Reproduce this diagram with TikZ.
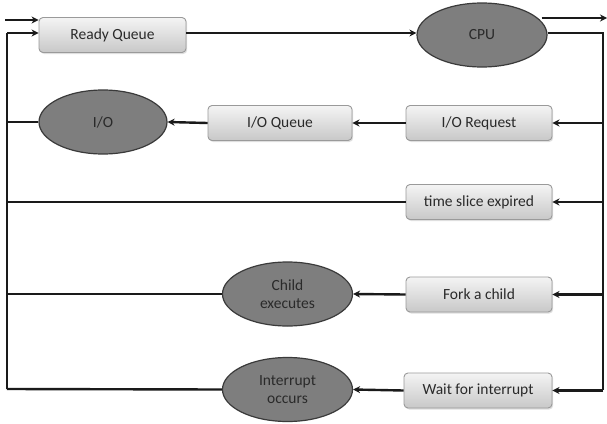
\documentclass[tikz,border=0pt]{standalone}
\usepackage{fontspec}
\setmainfont{Carlito}
\usetikzlibrary{arrows.meta,shapes.geometric,shadows}
\definecolor{boxtop}{HTML}{F4F4F4}
\definecolor{boxbot}{HTML}{C8C8C8}
\definecolor{boxline}{HTML}{9A9A9A}
\definecolor{ellfill}{HTML}{7E7E7E}
\definecolor{ellline}{HTML}{3A3A3A}
\definecolor{ink}{HTML}{2A2A2A}
\definecolor{wire}{HTML}{1A1A1A}
\tikzset{
  qbox/.style={draw=boxline, line width=0.9pt, rounded corners=4pt,
    top color=boxtop, bottom color=boxbot, minimum height=35pt,
    text=ink, font=\fontsize{15.5}{17}\selectfont,
    drop shadow={shadow xshift=1.2pt, shadow yshift=-1.5pt, opacity=0.25}},
  state/.style={ellipse, draw=ellline, line width=1.2pt, fill=ellfill,
    minimum width=130pt, minimum height=64pt, inner sep=0pt,
    text=ink, font=\fontsize{15.5}{18}\selectfont, align=center},
  wire/.style={draw=wire, line width=2.4pt},
  arr/.style={wire, -{Stealth[length=7pt,width=7pt]}},
}
\begin{document}
\begin{tikzpicture}[x=1pt,y=-1pt]
\useasboundingbox (0,0) rectangle (607,423);
\fill[white] (0,0) rectangle (607,423);

% queue boxes
\node[qbox, minimum width=147pt] (ready) at (112.5,35) {Ready Queue};
\node[qbox, minimum width=146pt] (ioreq) at (479,123) {I/O Request};
\node[qbox, minimum width=144pt] (ioq) at (280,123) {I/O Queue};
\node[qbox, minimum width=146pt] (slice) at (479,202) {time slice expired};
\node[qbox, minimum width=146pt] (fork) at (479,294.5) {Fork a child};
\node[qbox, minimum width=148pt] (wait) at (478,390.5) {Wait for interrupt};

% processor and event states
\node[state] (cpu) at (482,35) {CPU};
\node[state, minimum width=128pt] (io) at (103,122) {I/O};
\node[state] (child) at (287.5,294) {Child\\executes};
\node[state] (intr) at (287.5,389.5) {Interrupt\\occurs};

% rails
\coordinate (rtop) at (603,33);
\coordinate (rbot) at (603,390);
\coordinate (ltop) at (7,33);
\coordinate (lbot) at (7,389);
\coordinate (entry) at (5,20);
\coordinate (exit) at (607,18);

% new process entering and CPU exit
\draw[arr] (entry) -- (ready.west |- entry);
\draw[arr] (cpu.east |- exit) ++(-6,0) -- (exit);

% ready queue to CPU
\draw[arr] (ready.east |- 0,33) -- (cpu.west |- 0,33);

% right rail from the CPU
\draw[wire] (cpu.east |- 0,33) -- (rtop) -- (rbot);
\draw[arr] (rtop |- ioreq) -- (ioreq.east);
\draw[arr] (rtop |- slice) -- (slice.east);
\draw[arr] (rtop |- fork) -- (fork.east);
\draw[arr] (rtop |- wait) -- (wait.east);

% events in progress
\draw[arr] (ioreq.west) -- (ioq.east);
\draw[arr] (ioq.west) -- (io.east);
\draw[arr] (fork.west) -- (child.east);
\draw[arr] (wait.west) -- (intr.east);

% left rail back to the ready queue
\draw[wire] (io.west) -- (ltop |- io);
\draw[wire] (slice.west) -- (ltop |- slice);
\draw[wire] (child.west) -- (ltop |- child);
\draw[wire] (intr.west) -- (lbot);
\draw[wire] (lbot) -- (ltop);
\draw[arr] (ltop) -- (ready.west |- ltop);
\end{tikzpicture}
\end{document}
